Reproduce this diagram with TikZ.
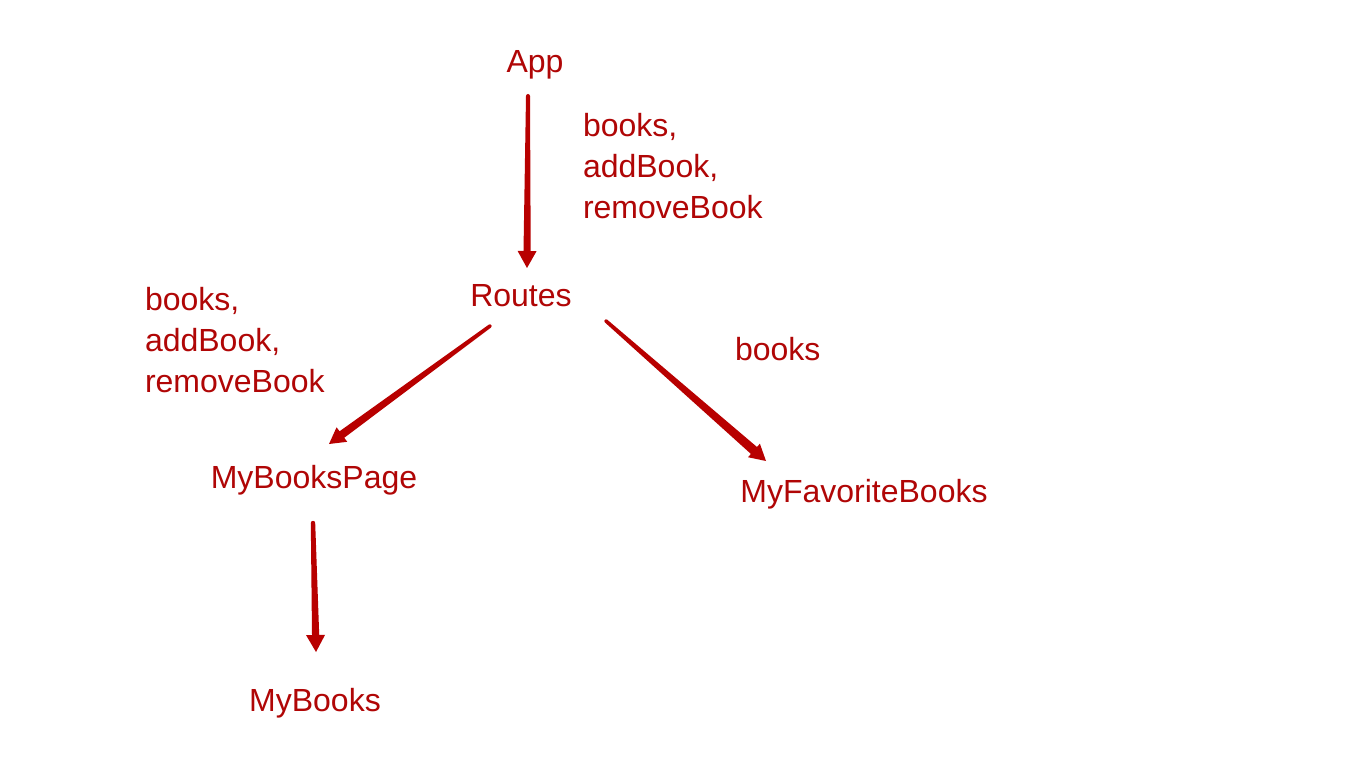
\documentclass[tikz,border=0pt]{standalone}
\usepackage{fontspec}
\setmainfont{Liberation Sans}
\usetikzlibrary{calc}
\definecolor{txtred}{RGB}{176,6,6}
\definecolor{arrred}{RGB}{184,0,0}
\tikzset{
  lbl/.style={text=txtred, font=\fontsize{32}{41}\selectfont, inner sep=0pt, outer sep=0pt},
  lblc/.style={lbl, anchor=base},
  lblw/.style={lbl, anchor=base west, align=left},
}
% tapered arrow: #1 start, #2 tip, #3 start half-width, #4 end half-width, #5 head half-width, #6 head length
\newcommand\taperarrow[6]{%
  \coordinate (hb) at ($(#2)!#6!(#1)$);
  \fill[arrred]
    ($(#1)!#3!90:(#2)$) -- ($(hb)!#4!-90:(#1)$) -- ($(hb)!#5!-90:(#1)$) -- (#2)
    -- ($(hb)!#5!90:(#1)$) -- ($(hb)!#4!90:(#1)$) -- ($(#1)!#3!-90:(#2)$) -- cycle;
  \fill[arrred] (#1) circle (#3);
}
\begin{document}
\begin{tikzpicture}[x=1pt,y=-1pt]
\useasboundingbox[fill=white] (0,0) rectangle (1360,767);
% nodes
\node[lblc] (app) at (535,73) {App};
\node[lblc] (routes) at (521,307) {Routes};
\node[lblc] (mbp) at (314,488) {MyBooksPage};
\node[lblc] (mfb) at (864,502) {MyFavoriteBooks};
\node[lblc] (mb) at (315,711) {MyBooks};
% labels
\node[lblw] (l1) at (583,219) {books,\\addBook,\\removeBook};
\node[lblw] (l2) at (145,392) {books,\\addBook,\\removeBook};
\node[lblw] (l3) at (735,360) {books};
% connector endpoints
\coordinate (a1s) at (528,96);
\coordinate (a1e) at (527,268);
\coordinate (a2s) at (490,326);
\coordinate (a2e) at (329,444);
\coordinate (a3s) at (606,321);
\coordinate (a3e) at (766,461);
\coordinate (a4s) at (313,523);
\coordinate (a4e) at (316,652);
% connectors
\taperarrow{a1s}{a1e}{2pt}{3.6pt}{9.5pt}{17pt}
\taperarrow{a2s}{a2e}{1.8pt}{4pt}{9pt}{16pt}
\taperarrow{a3s}{a3e}{1.8pt}{4.6pt}{9pt}{16pt}
\taperarrow{a4s}{a4e}{2.2pt}{3.6pt}{9.5pt}{17pt}
\end{tikzpicture}
\end{document}
